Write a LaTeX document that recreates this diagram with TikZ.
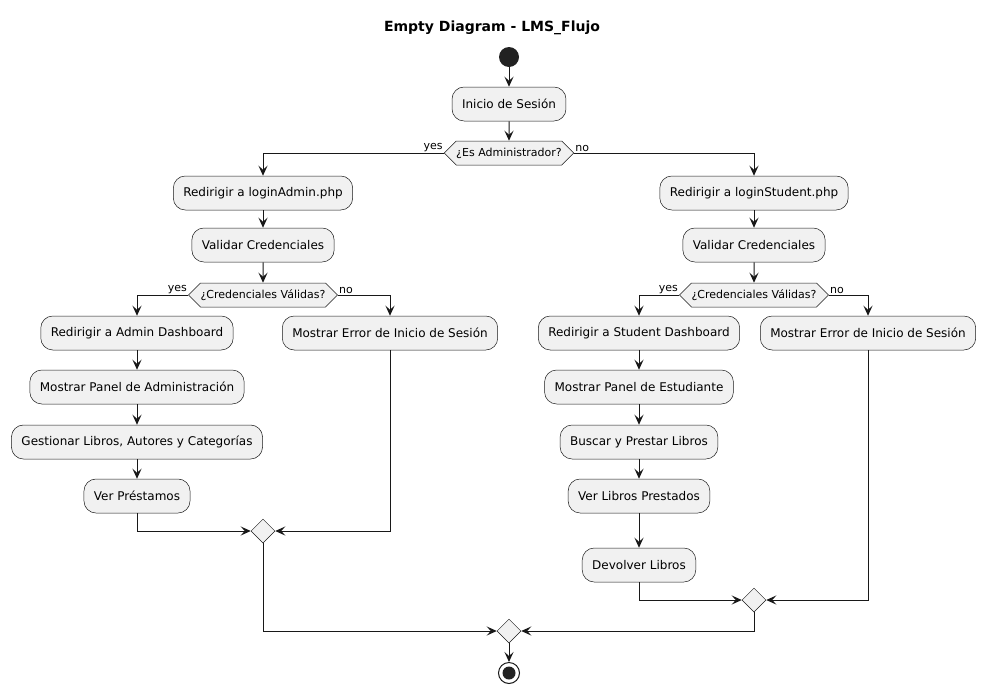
\documentclass[tikz,border=0pt]{standalone}
\usepackage{fontspec}
\setmainfont{DejaVu Sans}
\usetikzlibrary{arrows.meta,shapes.geometric,shapes.symbols}
\definecolor{boxfill}{HTML}{F1F1F1}
\definecolor{ink}{HTML}{181818}
\definecolor{dot}{HTML}{222222}
\tikzset{
  act/.style={draw=ink, line width=0.5pt, fill=boxfill, rounded corners=12pt,
    minimum height=34pt, inner xsep=10pt, inner ysep=0pt, font=\fontsize{12}{14}\selectfont},
  decide/.style={draw=ink, line width=0.5pt, fill=boxfill, shape=signal,
    signal to=west and east, signal pointer angle=90, minimum height=24pt,
    inner xsep=0pt, inner ysep=2pt, font=\fontsize{11}{13}\selectfont},
  mergebox/.style={draw=ink, line width=0.5pt, fill=boxfill, shape=diamond,
    minimum width=24pt, minimum height=24pt, inner sep=0pt},
  flow/.style={draw=ink, line width=1pt, -{Stealth[length=10pt,width=9pt,inset=4pt]}},
  flowplain/.style={draw=ink, line width=1pt},
  lbl/.style={font=\fontsize{11}{13}\selectfont, inner sep=1pt},
}
\begin{document}
\begin{tikzpicture}[x=1pt,y=-1pt]
\useasboundingbox (0,0) rectangle (986,694);
\node[font=\bfseries\fontsize{14}{16}\selectfont] (title) at (492,28) {Empty Diagram - LMS\_Flujo};
\node[circle, fill=dot, minimum size=20pt, inner sep=0pt] (start) at (509,57) {};
\node[act] (inicio) at (509,104) {Inicio de Sesión};
\node[decide] (dec1) at (509,153) {¿Es Administrador?};
\node[act] (logA) at (263,193) {Redirigir a loginAdmin.php};
\node[act] (logS) at (754,193) {Redirigir a loginStudent.php};
\node[act] (valA) at (263,245) {Validar Credenciales};
\node[act] (valS) at (754,245) {Validar Credenciales};
\node[decide] (decA) at (263,295) {¿Credenciales Válidas?};
\node[decide] (decS) at (754,295) {¿Credenciales Válidas?};
\node[act] (dashA) at (137,333) {Redirigir a Admin Dashboard};
\node[act] (errA) at (390,333) {Mostrar Error de Inicio de Sesión};
\node[act] (dashS) at (639,333) {Redirigir a Student Dashboard};
\node[act] (errS) at (868,333) {Mostrar Error de Inicio de Sesión};
\node[act] (panA) at (137,387) {Mostrar Panel de Administración};
\node[act] (panS) at (639,387) {Mostrar Panel de Estudiante};
\node[act] (gest) at (137,442) {Gestionar Libros, Autores y Categorías};
\node[act] (busc) at (639,442) {Buscar y Prestar Libros};
\node[act] (verP) at (137,496) {Ver Préstamos};
\node[act] (verL) at (639,496) {Ver Libros Prestados};
\node[act] (dev) at (639,565) {Devolver Libros};
\node[mergebox] (mA) at (263,531) {};
\node[mergebox] (mS) at (754,600) {};
\node[mergebox] (mF) at (509,631) {};
\node[circle, draw=ink, line width=1pt, fill=white, minimum size=21pt, inner sep=0pt] (stop) at (509,673) {};
\node[circle, fill=dot, minimum size=13pt, inner sep=0pt] (stopdot) at (stop.center) {};
% connectors
\draw[flow] (start) -- (inicio);
\draw[flow] (inicio) -- (dec1);
\draw[flow] (dec1.west) -| (logA.north);
\draw[flow] (dec1.east) -| (logS.north);
\node[lbl, anchor=south east] (y1) at (dec1.west) {yes};
\node[lbl, anchor=south west] (n1) at (dec1.east) {no};
\draw[flow] (logA) -- (valA);
\draw[flow] (logS) -- (valS);
\draw[flow] (valA) -- (decA);
\draw[flow] (valS) -- (decS);
\draw[flow] (decA.west) -| (dashA.north);
\draw[flow] (decA.east) -| (errA.north);
\node[lbl, anchor=south east] (y2) at (decA.west) {yes};
\node[lbl, anchor=south west] (n2) at (decA.east) {no};
\draw[flow] (decS.west) -| (dashS.north);
\draw[flow] (decS.east) -| (errS.north);
\node[lbl, anchor=south east] (y3) at (decS.west) {yes};
\node[lbl, anchor=south west] (n3) at (decS.east) {no};
\draw[flow] (dashA) -- (panA);
\draw[flow] (panA) -- (gest);
\draw[flow] (gest) -- (verP);
\draw[flow] (dashS) -- (panS);
\draw[flow] (panS) -- (busc);
\draw[flow] (busc) -- (verL);
\draw[flow] (verL) -- (dev);
\draw[flow] (verP.south) |- (mA.west);
\draw[flow] (errA.south) |- (mA.east);
\draw[flow] (dev.south) |- (mS.west);
\draw[flow] (errS.south) |- (mS.east);
\draw[flow] (mA.south) |- (mF.west);
\draw[flow] (mS.south) |- (mF.east);
\draw[flow] (mF) -- (stop);
\end{tikzpicture}
\end{document}
